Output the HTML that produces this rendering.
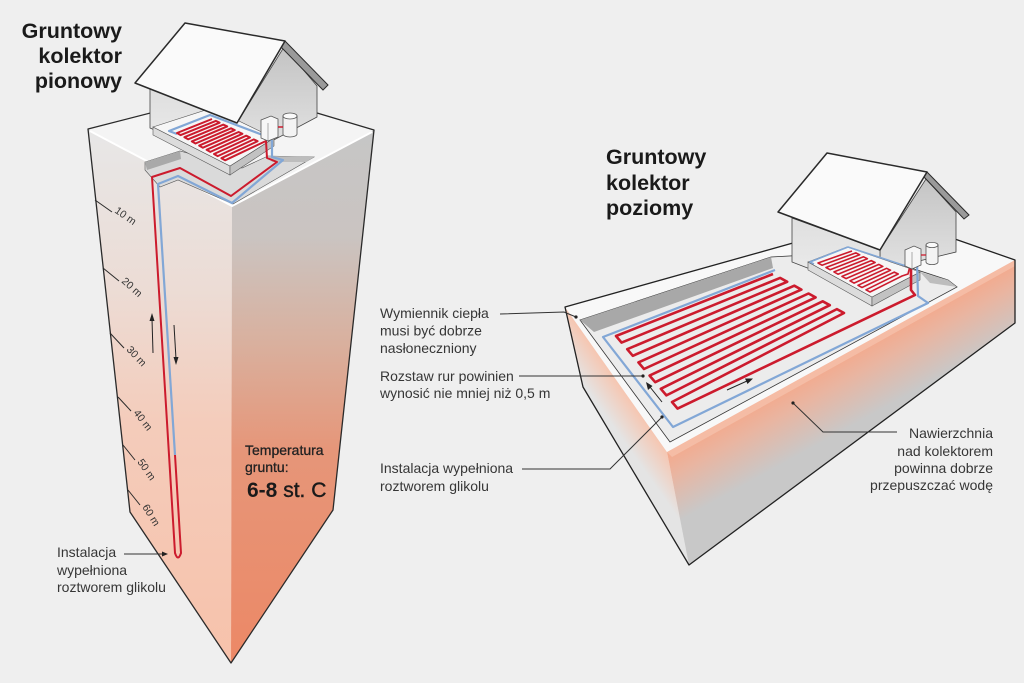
<!DOCTYPE html>
<html><head><meta charset="utf-8">
<style>
html,body{margin:0;padding:0;background:#efefef;}
svg{display:block;}
text{font-family:"Liberation Sans",Arial,sans-serif;}
</style></head><body>
<svg width="1024" height="683" viewBox="0 0 1024 683" xmlns="http://www.w3.org/2000/svg">
<defs>
<linearGradient id="lf" x1="0" y1="129" x2="0" y2="663" gradientUnits="userSpaceOnUse">
 <stop offset="0" stop-color="#e7e7e7"/><stop offset="0.3" stop-color="#ecdcd5"/><stop offset="0.55" stop-color="#f4ccbb"/><stop offset="1" stop-color="#f7c2ab"/>
</linearGradient>
<linearGradient id="rf" x1="0" y1="130" x2="0" y2="663" gradientUnits="userSpaceOnUse">
 <stop offset="0" stop-color="#c6c6c6"/><stop offset="0.2" stop-color="#cac4c1"/><stop offset="0.4" stop-color="#d9b09e"/><stop offset="0.6" stop-color="#e69679"/><stop offset="1" stop-color="#ec8866"/>
</linearGradient>
<linearGradient id="ff" x1="840" y1="357" x2="872" y2="415" gradientUnits="userSpaceOnUse">
 <stop offset="0" stop-color="#f4a98c"/><stop offset="0.35" stop-color="#e9b5a1"/><stop offset="1" stop-color="#c8c8c8"/>
</linearGradient>
<linearGradient id="slf" x1="620" y1="385" x2="596" y2="402" gradientUnits="userSpaceOnUse">
 <stop offset="0" stop-color="#f6c6b1"/><stop offset="1" stop-color="#e4e4e4"/>
</linearGradient>
<linearGradient id="rw" x1="0" y1="50" x2="0" y2="145" gradientUnits="userSpaceOnUse">
 <stop offset="0" stop-color="#c4c4c4"/><stop offset="1" stop-color="#e2e2e2"/>
</linearGradient>
<linearGradient id="rw2" x1="0" y1="178" x2="0" y2="270" gradientUnits="userSpaceOnUse">
 <stop offset="0" stop-color="#c4c4c4"/><stop offset="1" stop-color="#e2e2e2"/>
</linearGradient>
<linearGradient id="fw" x1="0" y1="88" x2="0" y2="165" gradientUnits="userSpaceOnUse">
 <stop offset="0" stop-color="#dedede"/><stop offset="1" stop-color="#efefef"/>
</linearGradient>
<linearGradient id="fw2" x1="0" y1="215" x2="0" y2="295" gradientUnits="userSpaceOnUse">
 <stop offset="0" stop-color="#dedede"/><stop offset="1" stop-color="#efefef"/>
</linearGradient>
</defs>
<rect width="1024" height="683" fill="#efefef"/>

<!-- ===== LEFT PRISM ===== -->
<polygon points="88,129 232,205 231,663 130,512" fill="url(#lf)"/>
<polygon points="232,205 374,130 333,510 231,663" fill="url(#rf)"/>
<polygon points="88,129 240,90 374,130 232,205" fill="#f4f4f4"/>
<polyline points="90,131 232,206 372,132" fill="none" stroke="#ffffff" stroke-width="2"/>
<polyline points="240,90 88,129 130,512 231,663 333,510 374,130 240,90" stroke="#2a2a2a" stroke-width="1.3" fill="none" stroke-linejoin="round"/>

<!-- scale -->
<g stroke="#2a2a2a" stroke-width="1">
<line x1="95" y1="200" x2="112" y2="212"/>
<line x1="103" y1="268" x2="119" y2="281"/>
<line x1="110" y1="333" x2="124" y2="348"/>
<line x1="118" y1="397" x2="131" y2="411"/>
<line x1="123" y1="445" x2="135" y2="460"/>
<line x1="128" y1="490" x2="140" y2="505"/>
</g>
<g font-size="10.5" fill="#333">
<text transform="translate(114,212) rotate(35)">10 m</text>
<text transform="translate(121,282) rotate(42)">20 m</text>
<text transform="translate(126,350) rotate(47)">30 m</text>
<text transform="translate(133,413) rotate(52)">40 m</text>
<text transform="translate(137,462) rotate(55)">50 m</text>
<text transform="translate(142,507) rotate(58)">60 m</text>
</g>

<!-- trench -->
<polygon points="145,162 180,151 242,168 268,156 314,157 233,204 178,180 160,187 145,170" fill="#dadada" stroke="#555" stroke-width="0.6"/>
<polygon points="145,162 180,151 181,159 147,170" fill="#a9a9a9"/>
<polygon points="268,156 314,157 306,162 272,162" fill="#bdbdbd"/>

<!-- left house walls -->
<polygon points="237,123 284,47 317,86 317,117 270,142 240,142" fill="url(#rw)" stroke="#444" stroke-width="0.8"/>
<polygon points="150,88 237,123 237,165 150,128" fill="url(#fw)" stroke="#444" stroke-width="0.8"/>
<!-- slab -->
<polygon points="153,127 230,166 230,175 153,135" fill="#dcdcdc" stroke="#555" stroke-width="0.6"/>
<polygon points="230,166 274,138 274,146 230,175" fill="#c2c2c2" stroke="#555" stroke-width="0.6"/>
<polygon points="153,127 212,108 274,138 230,166" fill="#f6f6f6" stroke="#555" stroke-width="0.6"/>

<!-- left pipes -->
<path d="M177,134 L169,131 L210,115 L268,137 L272,141 L272,157 L283,160 L232,203 L178,176 L158,184 L175,455" fill="none" stroke="#82a7d6" stroke-width="2.2" stroke-linejoin="round"/>
<path d="M212,119 L177,133 L180.7,135.1 L215.8,120.9 L219.6,122.7 L184.4,137.2 L188.1,139.3 L223.4,124.6 L227.2,126.4 L191.8,141.4 L195.5,143.5 L231,128.3 L234.8,130.1 L199.2,145.6 L202.9,147.7 L238.6,132 L242.4,133.8 L206.6,149.8 L210.3,151.9 L246.2,135.7 L250,137.5 L214,154 L217.7,156.1 L253.8,139.4 L257.6,141.2 L221.4,158.2 L225.1,160.3 L261.4,143.1 L266,141 L267,158 L277,162 L231,196 L180,168 L152,177 L175,553 Q178,562 181,553 L175,455" fill="none" stroke="#cc1b2d" stroke-width="2" stroke-linejoin="round"/>

<!-- left heat pump -->
<polygon points="261,120 271,116 278,119 278,137 268,141 261,138" fill="#f6f6f6" stroke="#555" stroke-width="0.8"/>
<line x1="268" y1="123" x2="268" y2="141" stroke="#777" stroke-width="0.6"/>
<path d="M283,116 L283,134 A7,3 0 0 0 297,134 L297,116 Z" fill="#f3f3f3" stroke="#555" stroke-width="0.8"/>
<ellipse cx="290" cy="116" rx="7" ry="3" fill="#fafafa" stroke="#555" stroke-width="0.8"/>
<line x1="278" y1="127" x2="283" y2="127" stroke="#cc1b2d" stroke-width="1.5"/>

<!-- left roof -->
<polygon points="285,41 328,85 323,90 281,47" fill="#9a9a9a" stroke="#2a2a2a" stroke-width="1"/>
<polygon points="185,23 285,41 237,123 135,83" fill="#fafafa" stroke="#2a2a2a" stroke-width="1.5" stroke-linejoin="round"/>

<!-- left arrows -->
<g stroke="#222" stroke-width="1" fill="#222">
<line x1="153" y1="353" x2="152" y2="319"/>
<polygon points="152,313 149.5,321 154.5,321" stroke="none"/>
<line x1="174" y1="325" x2="176" y2="359"/>
<polygon points="176,365 173.5,357 178.5,357" stroke="none"/>
</g>

<!-- ===== RIGHT SLAB ===== -->
<polygon points="565,307 667,452 689,565 583,387" fill="url(#slf)"/>
<polygon points="667,452 1015,260 1015,323 689,565" fill="url(#ff)"/>
<polygon points="565,307 889,216 1015,260 667,452" fill="#f8f8f8"/>
<polygon points="667,452 1015,260 1015,266 672,457" fill="#f7c8b4" opacity="0.6"/>
<polyline points="889,216 565,307 583,387 689,565 1015,323 1015,260 889,216" fill="none" stroke="#222" stroke-width="1.3" stroke-linejoin="round"/>

<!-- pit -->
<polygon points="580,320 771,257 862,252 948,280 957,287 670,442" fill="#ececec" stroke="#333" stroke-width="0.8"/>
<polygon points="580,320 771,257 773,268 594,332" fill="#a8a8a8"/>
<polygon points="920,272 948,280 957,287 930,283" fill="#bdbdbd"/>

<!-- right house walls -->
<polygon points="880,250 926,179 956,212 956,252 915,262 880,272" fill="url(#rw2)" stroke="#444" stroke-width="0.8"/>
<polygon points="792,218 880,250 880,296 792,262" fill="url(#fw2)" stroke="#444" stroke-width="0.8"/>
<!-- slab -->
<polygon points="808,262 872,297 872,306 808,270" fill="#dcdcdc" stroke="#555" stroke-width="0.6"/>
<polygon points="872,297 920,272 920,280 872,306" fill="#c2c2c2" stroke="#555" stroke-width="0.6"/>
<polygon points="808,262 847,247 920,272 872,297" fill="#f6f6f6" stroke="#555" stroke-width="0.6"/>

<!-- right pipes -->
<path d="M775,270 L603,337 L673,427 L928,303 L918,296 L917,262" fill="none" stroke="#82a7d6" stroke-width="2.2" stroke-linejoin="round"/>
<path d="M814,264 L810,262 L848,247 L906,266 L912,262" fill="none" stroke="#82a7d6" stroke-width="1.6" stroke-linejoin="round"/>
<path d="M773,274 L616,336 L621.6,342.6 L780.1,277.9 L787.2,281.8 L627.2,349.2 L632.8,355.8 L794.3,285.7 L801.4,289.6 L638.4,362.4 L644,369 L808.5,293.5 L815.6,297.4 L649.6,375.6 L655.2,382.2 L822.7,301.3 L829.8,305.2 L660.8,388.8 L666.4,395.4 L836.9,309.1 L844,313 L672,402 L677.6,408.6 L915,295 L911,290 L911,262" fill="none" stroke="#cc1b2d" stroke-width="2.6" stroke-linejoin="round"/>
<path d="M852,251 L818,263 L822,265.2 L855.8,252.9 L859.7,254.8 L826,267.5 L830,269.7 L863.5,256.8 L867.4,258.7 L834,271.9 L838,274.2 L871.2,260.6 L875.1,262.5 L842,276.4 L846,278.6 L878.9,264.4 L882.8,266.4 L850,280.8 L854,283.1 L886.6,268.3 L890.5,270.2 L858,285.3 L862,287.5 L894.3,272.1 L898.2,274 L866,289.8 L870,292 L902,276 L908,274 L910,266" fill="none" stroke="#cc1b2d" stroke-width="1.6" stroke-linejoin="round"/>

<!-- right heat pump -->
<polygon points="905,250 914,246 921,249 921,265 912,269 905,266" fill="#f6f6f6" stroke="#555" stroke-width="0.8"/>
<line x1="912" y1="252" x2="912" y2="269" stroke="#777" stroke-width="0.6"/>
<path d="M926,245 L926,262 A6,2.6 0 0 0 938,262 L938,245 Z" fill="#f3f3f3" stroke="#555" stroke-width="0.8"/>
<ellipse cx="932" cy="245" rx="6" ry="2.6" fill="#fafafa" stroke="#555" stroke-width="0.8"/>
<line x1="921" y1="255" x2="926" y2="255" stroke="#cc1b2d" stroke-width="1.3"/>

<!-- right roof -->
<polygon points="927,172 969,215 964,219 924,177" fill="#9a9a9a" stroke="#2a2a2a" stroke-width="1"/>
<polygon points="827,153 927,172 880,250 778,212" fill="#fafafa" stroke="#2a2a2a" stroke-width="1.5" stroke-linejoin="round"/>

<!-- right arrows -->
<g stroke="#222" stroke-width="1" fill="#222">
<line x1="727" y1="390" x2="747" y2="381"/>
<polygon points="753,378.5 745,378.5 747.5,384" stroke="none"/>
<line x1="662" y1="402" x2="650" y2="387"/>
<polygon points="646,382 648,390 652.5,386" stroke="none"/>
</g>

<!-- connectors -->
<g stroke="#333" stroke-width="1" fill="none">
<polyline points="500,314 564,312 576,317"/>
<line x1="519" y1="376" x2="642" y2="376"/>
<polyline points="522,469 610,469 662,417"/>
<polyline points="897,432 823,432 793,403"/>
<line x1="124" y1="554" x2="164" y2="554"/>
</g>
<g fill="#222">
<circle cx="576" cy="317" r="1.6"/>
<circle cx="643" cy="376" r="1.6"/>
<circle cx="662" cy="417" r="1.6"/>
<circle cx="793" cy="403" r="1.6"/>
<polygon points="168,554 162,551.5 162,556.5"/>
</g>

<!-- titles -->
<g font-size="21.5" font-weight="bold" fill="#1a1a1a">
<text x="122" y="38" text-anchor="end">Gruntowy</text>
<text x="122" y="63" text-anchor="end">kolektor</text>
<text x="122" y="88" text-anchor="end">pionowy</text>
<text x="606" y="164">Gruntowy</text>
<text x="606" y="190">kolektor</text>
<text x="606" y="215">poziomy</text>
</g>

<!-- labels -->
<g font-size="14" fill="#363636">
<text x="380" y="318">Wymiennik ciepła</text>
<text x="380" y="335.5">musi być dobrze</text>
<text x="380" y="353">nasłoneczniony</text>
<text x="380" y="381">Rozstaw rur powinien</text>
<text x="380" y="398">wynosić nie mniej niż 0,5 m</text>
<text x="380" y="473">Instalacja wypełniona</text>
<text x="380" y="491">roztworem glikolu</text>
<text x="993" y="438" text-anchor="end">Nawierzchnia</text>
<text x="993" y="456" text-anchor="end">nad kolektorem</text>
<text x="993" y="473" text-anchor="end">powinna dobrze</text>
<text x="993" y="490" text-anchor="end">przepuszczać wodę</text>
<text x="57" y="557">Instalacja</text>
<text x="57" y="575">wypełniona</text>
<text x="57" y="592">roztworem glikolu</text>
</g>
<g fill="#222" stroke="#222" stroke-width="0.3">
<text x="245" y="455" font-size="14">Temperatura</text>
<text x="245" y="472" font-size="14">gruntu:</text>
</g>
<text x="247" y="497" font-size="21" fill="#1a1a1a"><tspan font-weight="bold">6-8</tspan><tspan stroke="#1a1a1a" stroke-width="0.4"> st. C</tspan></text>
</svg>
</body></html>
